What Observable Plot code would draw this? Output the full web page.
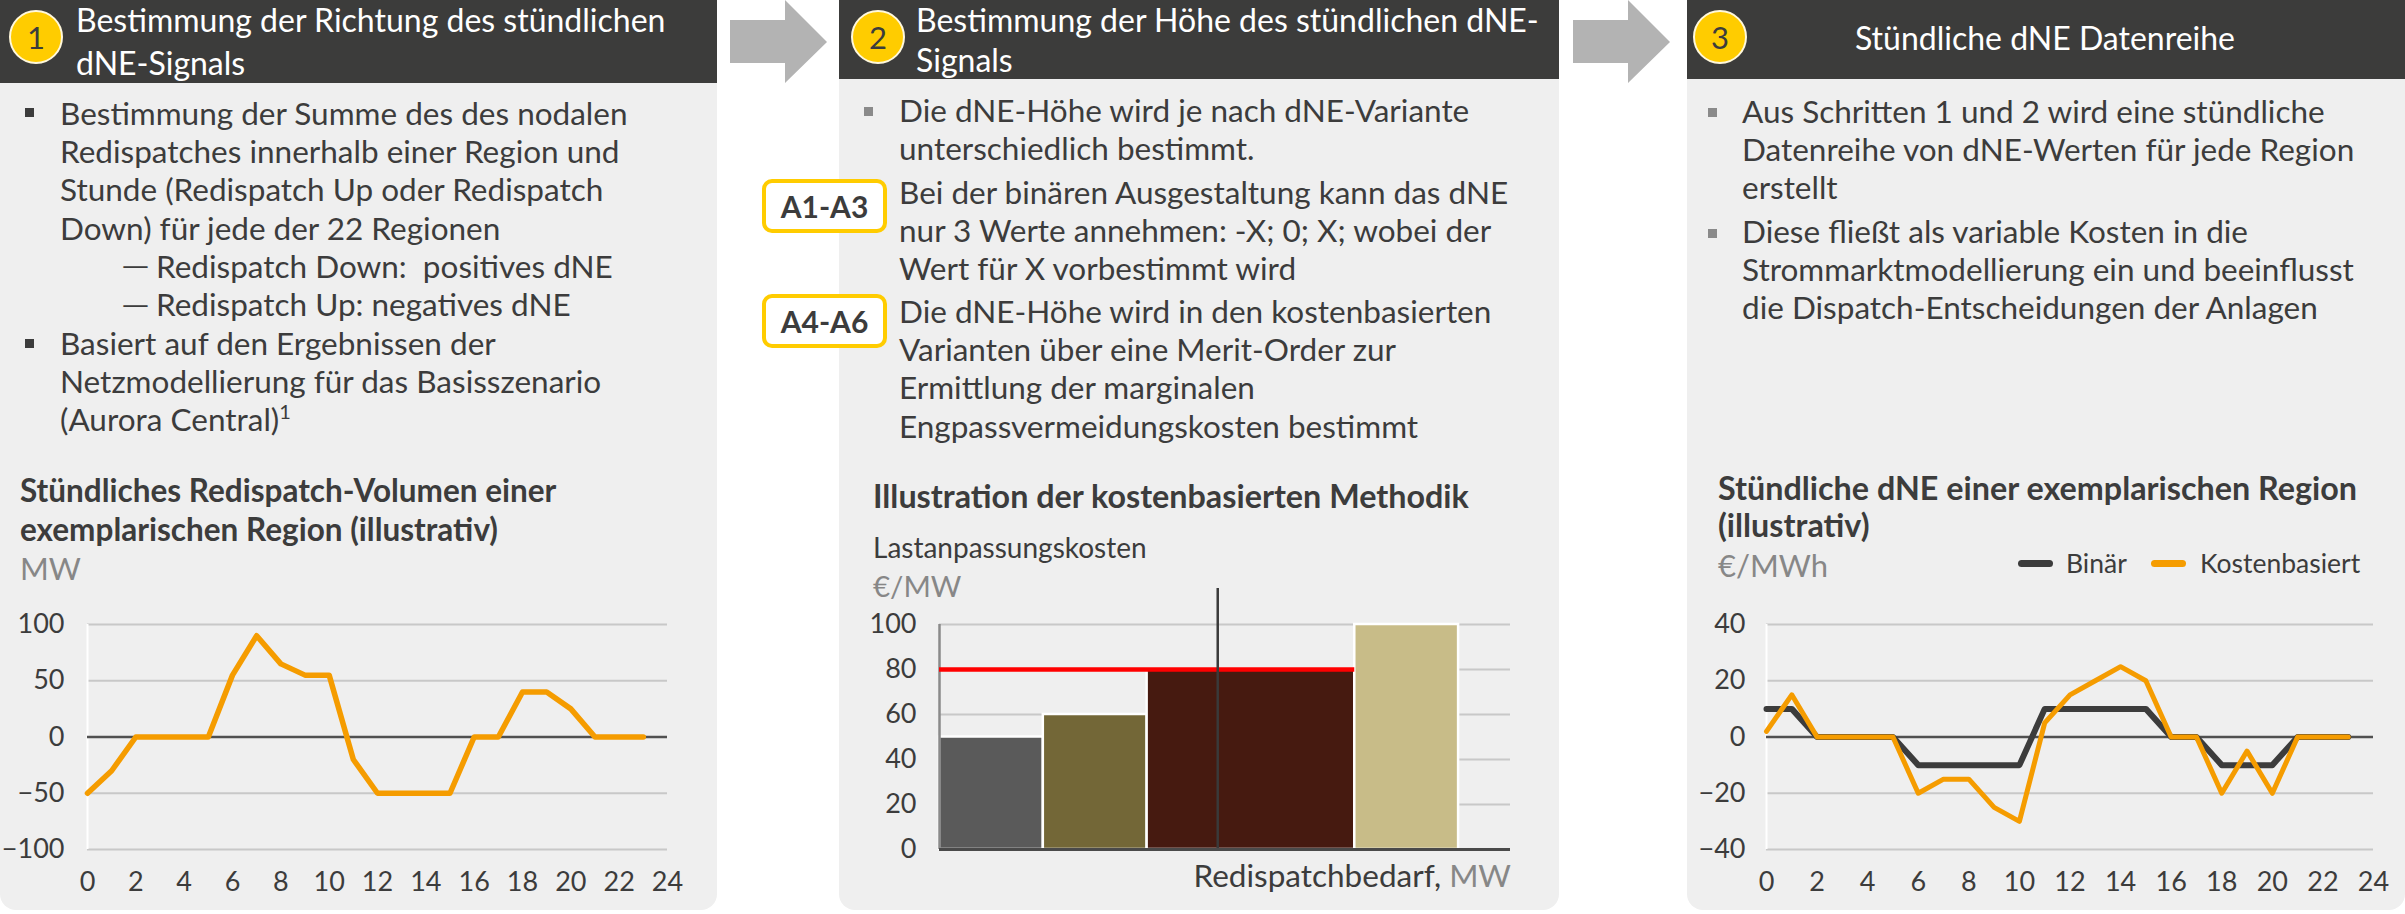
<!DOCTYPE html>
<html>
<head>
<meta charset="utf-8">
<script src="https://cdn.jsdelivr.net/npm/d3@7"></script>
<script src="https://cdn.jsdelivr.net/npm/@observablehq/plot@0.6"></script>
<style>
  html, body { margin: 0; padding: 0; background: #ffffff; }
  #root { position: relative; width: 2405px; height: 914px; overflow: hidden; font-family: Lato, "Open Sans", sans-serif; color: #3c3c3c; }
  .panel { position: absolute; top: 0; height: 910px; background: #efefef; border-radius: 0 0 16px 16px; }
  .header { position: absolute; top: 0; left: 0; right: 0; background: #3c3c3b; }
  .abs { position: absolute; white-space: nowrap; }
  .circle { position: absolute; width: 54px; height: 54px; border-radius: 50%; background: #ffcc00; box-sizing: border-box; border: 2px solid #fff8dc; text-align: center; line-height: 50px; font-size: 31px; color: #3c3c3c; }
  .sq { position: absolute; width: 9px; height: 9px; }
  .tag { position: absolute; box-sizing: border-box; border: 4px solid #ffcc00; border-radius: 10px; background: #ffffff; text-align: center; font-size: 30px; font-weight: bold; color: #3c3c3c; }
  .gray { color: #878787; }
  .dash { display: inline-block; transform: scaleX(1.35); transform-origin: left center; }
  svg { overflow: visible; }
</style>
</head>
<body>
<div id="root"></div>
<script>
// ---------- DATA ----------
const hours = d3.range(0, 24);
const redispatchMW = [-50, -30, 0, 0, 0, 0, 55, 90, 65, 55, 55, -20, -50, -50, -50, -50, 0, 0, 40, 40, 25, 0, 0, 0];
const hourTicks = [0, 2, 4, 6, 8, 10, 12, 14, 16, 18, 20, 22, 24];
const mwTicks = [-100, -50, 0, 50, 100];

const barStart = [0, 1, 2, 4];
const barEnd = [1, 2, 4, 5];
const barCost = [50, 60, 80, 100];
const barColors = ["#5a5a5a", "#736737", "#461a10", "#c8bc88"];
const costTicks = [0, 20, 40, 60, 80, 100];
const marginalCost = 80;
const marginalCapacity = 4;
const demandMW = 2.68;

const dneBinaer = [10, 10, 0, 0, 0, 0, -10, -10, -10, -10, -10, 10, 10, 10, 10, 10, 0, 0, -10, -10, -10, 0, 0, 0];
const dneKosten = [2, 15, 0, 0, 0, 0, -20, -15, -15, -25, -30, 5, 15, 20, 25, 20, 0, 0, -20, -5, -20, 0, 0, 0];
const dneTicks = [-40, -20, 0, 20, 40];

const ORANGE = "#f59c00";
const DARK = "#3c3c3c";

// ---------- LAYOUT HELPERS ----------
const root = document.getElementById("root");
function el(tag, cls, style, html, parent) {
  const e = document.createElement(tag);
  if (cls) e.className = cls;
  Object.assign(e.style, style || {});
  if (html != null) e.innerHTML = html;
  (parent || root).appendChild(e);
  return e;
}
// text block: x, baseline of first line, font size, line height
function text(x, baseline, fs, lh, lines, extra, align) {
  const top = baseline - (lh / 2 + 0.387 * fs);
  const st = Object.assign({ left: x + "px", top: top + "px", fontSize: fs + "px", lineHeight: lh + "px" }, extra || {});
  if (align === "right") { delete st.left; st.right = (2405 - x) + "px"; st.textAlign = "right"; }
  return el("div", "abs", st, lines.join("<br>"));
}
// single lines placed individually (compact line box)
function lines1(x, baselines, fs, lines, extra) {
  lines.forEach((t, i) => text(x, baselines[i], fs, fs, [t], extra));
}

// panels
const panels = [[0, 717, 83], [839, 720, 79], [1687, 718, 79]];
panels.forEach(([x, w, hh]) => {
  const p = el("div", "panel", { left: x + "px", width: w + "px" });
  el("div", "header", { height: hh + "px" }, null, p);
});

// arrows
function arrow(x0) {
  const s = el("div", "abs", { left: x0 + "px", top: "0px" });
  s.innerHTML = `<svg width="100" height="90"><polygon points="0,20 55,20 55,0 97,42 55,83 55,63 0,63" fill="#b3b3b3"/></svg>`;
}
arrow(730);
arrow(1573);

// header circles + titles
[[9, 10, "1"], [851, 10, "2"], [1693, 10, "3"]].forEach(([x, y, n]) => el("div", "circle", { left: x + "px", top: y + "px" }, n));
lines1(76, [32, 75], 32, ["Bestimmung der Richtung des stündlichen", "dNE-Signals"], { color: "#ffffff" });
lines1(916, [32.5, 72], 32, ["Bestimmung der Höhe des stündlichen dNE-", "Signals"], { color: "#ffffff" });
el("div", "abs", { left: "1760px", width: "570px", top: (50 - 0.887 * 32) + "px", fontSize: "32px", lineHeight: "32px", color: "#ffffff", textAlign: "center" }, "Stündliche dNE Datenreihe");

// ---------- PANEL 1 TEXT ----------
const FS = 31.5, LH = 38.4;
el("div", "sq", { left: "25px", top: "108px", background: "#3c3c3c" });
text(60, 125, FS, LH, ["Bestimmung der Summe des des nodalen", "Redispatches innerhalb einer Region und", "Stunde (Redispatch Up oder Redispatch", "Down) für jede der 22 Regionen"]);
text(121, 276, 27, LH, ["<span class='dash'>—</span>", "<span class='dash'>—</span>"]);
text(156, 278, FS, LH, ["Redispatch Down:&nbsp; positives dNE", "Redispatch Up: negatives dNE"]);
el("div", "sq", { left: "25px", top: "339px", background: "#3c3c3c" });
text(60, 355, FS, LH, ["Basiert auf den Ergebnissen der", "Netzmodellierung für das Basisszenario", "(Aurora Central)<sup style='font-size:20px;line-height:0;vertical-align:12px'>1</sup>"]);

text(20, 503, 31.5, 39, ["Stündliches Redispatch-Volumen einer", "exemplarischen Region (illustrativ)"], { fontWeight: "bold" });
text(20, 580, 31, 39, ["MW"], { color: "#878787" });

// ---------- PANEL 2 TEXT ----------
el("div", "sq", { left: "864px", top: "107px", background: "#8a8a8a" });
text(899, 122, FS, LH, ["Die dNE-Höhe wird je nach dNE-Variante", "unterschiedlich bestimmt."]);
el("div", "tag", { left: "762px", top: "179px", width: "125px", height: "54px", lineHeight: "46px" }, "A1-A3");
text(899, 204, FS, LH, ["Bei der binären Ausgestaltung kann das dNE", "nur 3 Werte annehmen: -X; 0; X; wobei der", "Wert für X vorbestimmt wird"]);
el("div", "tag", { left: "762px", top: "294px", width: "125px", height: "54px", lineHeight: "46px" }, "A4-A6");
text(899, 323, FS, LH, ["Die dNE-Höhe wird in den kostenbasierten", "Varianten über eine Merit-Order zur", "Ermittlung der marginalen", "Engpassvermeidungskosten bestimmt"]);

text(873, 508, 32.3, 39, ["Illustration der kostenbasierten Methodik"], { fontWeight: "bold" });
text(873, 558, 28, 39, ["Lastanpassungskosten"]);
text(873, 597, 29.5, 39, ["€/MW"], { color: "#878787" });
text(1511, 888, 31.5, 39, ["Redispatchbedarf, <span class='gray'>MW</span>"], {}, "right");

// ---------- PANEL 3 TEXT ----------
el("div", "sq", { left: "1708px", top: "108px", background: "#8a8a8a" });
text(1742, 123, FS, LH, ["Aus Schritten 1 und 2 wird eine stündliche", "Datenreihe von dNE-Werten für jede Region", "erstellt"]);
el("div", "sq", { left: "1708px", top: "229px", background: "#8a8a8a" });
text(1742, 243, FS, LH, ["Diese fließt als variable Kosten in die", "Strommarktmodellierung ein und beeinflusst", "die Dispatch-Entscheidungen der Anlagen"]);

text(1718, 500, 32.3, 37, ["Stündliche dNE einer exemplarischen Region", "(illustrativ)"], { fontWeight: "bold" });
text(1718, 577, 31, 39, ["€/MWh"], { color: "#878787" });
// legend
el("div", "abs", { left: "2018px", top: "560px", width: "35px", height: "7px", borderRadius: "4px", background: DARK });
text(2066, 573, 26.5, 36, ["Binär"]);
el("div", "abs", { left: "2151px", top: "560px", width: "35px", height: "7px", borderRadius: "4px", background: ORANGE });
text(2200, 573, 26.5, 36, ["Kostenbasiert"]);

// ---------- CHARTS ----------
const plotStyle = { fontFamily: "Lato, sans-serif", fontSize: "27px", color: "#3c3c3c", background: "transparent", overflow: "visible" };

function place(svg, x, y) {
  const w = el("div", "abs", { left: x + "px", top: y + "px" });
  w.appendChild(svg);
}

// Chart 1
const d1 = hours.map((h, i) => ({ h, v: redispatchMW[i] }));
place(Plot.plot({
  width: 717, height: 320,
  marginLeft: 87, marginRight: 50, marginTop: 34, marginBottom: 61,
  style: plotStyle,
  x: { domain: [0, 24], ticks: hourTicks, tickSize: 0, tickPadding: 22, label: null },
  y: { domain: [-100, 100], ticks: mwTicks, tickSize: 0, tickPadding: 23, label: null },
  marks: [
    Plot.ruleY(mwTicks.filter(d => d !== 0), { stroke: "#c8c8c8", strokeWidth: 2, strokeOpacity: 1 }),
    Plot.ruleX([0], { stroke: "#ffffff", strokeWidth: 2 }),
    Plot.ruleY([0], { stroke: "#505050", strokeWidth: 2.5 }),
    Plot.line(d1, { x: "h", y: "v", stroke: ORANGE, strokeWidth: 5.5 })
  ]
}), 0, 590);

// Chart 2
const bars = barCost.map((c, i) => ({ x1: barStart[i], x2: barEnd[i], c, fill: barColors[i] }));
place(Plot.plot({
  width: 720, height: 350,
  marginLeft: 100, marginRight: 49, marginTop: 64, marginBottom: 61,
  style: plotStyle,
  x: { domain: [0, 5.5], axis: null },
  y: { domain: [0, 100], ticks: costTicks, tickSize: 0, tickPadding: 23, label: null },
  marks: [
    Plot.ruleY(costTicks.filter(d => d !== 0), { stroke: "#c8c8c8", strokeWidth: 2 }),
    Plot.rectY(bars, { x1: "x1", x2: "x2", y: "c", fill: "fill", stroke: "#ffffff", strokeWidth: 2.5 }),
    Plot.ruleX([0], { y1: 0, y2: 100, stroke: "#8a8a8a", strokeWidth: 2.5 }),
    Plot.ruleY([{ y: marginalCost, x1: 0, x2: marginalCapacity }], { y: "y", x1: "x1", x2: "x2", stroke: "#ff0000", strokeWidth: 4.5 }),
    Plot.ruleX([{ x: demandMW, y1: 0, y2: 116 }], { x: "x", y1: "y1", y2: "y2", stroke: "#3a3a3a", strokeWidth: 2.5, clip: false }),
    Plot.ruleY([0], { stroke: "#4a4a4a", strokeWidth: 3 })
  ]
}), 839, 560);

// Chart 3
const d3b = hours.map((h, i) => ({ h, v: dneBinaer[i] }));
const d3k = hours.map((h, i) => ({ h, v: dneKosten[i] }));
place(Plot.plot({
  width: 718, height: 320,
  marginLeft: 79, marginRight: 32, marginTop: 34, marginBottom: 61,
  style: plotStyle,
  x: { domain: [0, 24], ticks: hourTicks, tickSize: 0, tickPadding: 22, label: null },
  y: { domain: [-40, 40], ticks: dneTicks, tickSize: 0, tickPadding: 21, label: null },
  marks: [
    Plot.ruleY(dneTicks.filter(d => d !== 0), { stroke: "#c8c8c8", strokeWidth: 2 }),
    Plot.ruleX([0], { stroke: "#ffffff", strokeWidth: 2 }),
    Plot.ruleY([0], { stroke: "#505050", strokeWidth: 2.5 }),
    Plot.line(d3b, { x: "h", y: "v", stroke: DARK, strokeWidth: 6 }),
    Plot.line(d3k, { x: "h", y: "v", stroke: ORANGE, strokeWidth: 5 })
  ]
}), 1687, 590);
</script>
</body>
</html>
